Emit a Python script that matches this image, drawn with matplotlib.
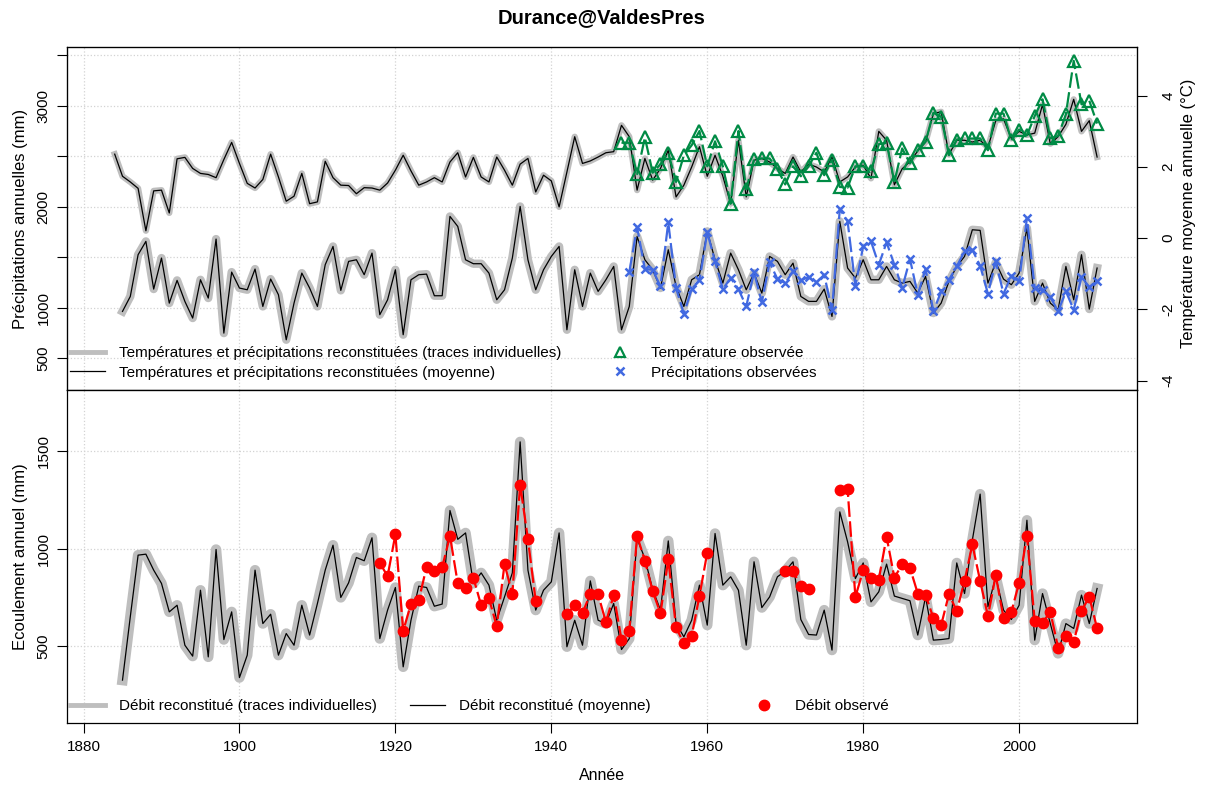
import numpy as np
import matplotlib
matplotlib.use("Agg")
import matplotlib.pyplot as plt
from matplotlib.lines import Line2D
from matplotlib.legend import Legend

plt.rcParams['font.family'] = ['Liberation Sans', 'DejaVu Sans']

# reconstructed series (mean of the members)
years_temp = np.arange(1884, 2011)
temp_mean = [2.36, 1.74, 1.58, 1.40, 0.21, 1.33, 1.35, 0.71, 2.23, 2.27,
             1.96, 1.82, 1.79, 1.70, 2.21, 2.69, 2.10, 1.54, 1.41, 1.65,
             2.36, 1.72, 1.04, 1.18, 1.82, 0.97, 1.02, 2.16, 1.70, 1.49,
             1.48, 1.25, 1.42, 1.41, 1.35, 1.55, 1.91, 2.33, 1.89, 1.49,
             1.58, 1.70, 1.58, 2.14, 2.40, 1.72, 2.27, 1.72, 1.58, 2.28,
             1.91, 1.49, 2.08, 2.24, 1.30, 1.77, 1.61, 0.88, 1.86, 2.85,
             2.10, 2.17, 2.28, 2.40, 2.43, 3.17, 2.85, 1.35, 2.24, 1.63,
             1.96, 2.47, 1.16, 1.49, 2.00, 2.57, 1.74, 2.33, 1.74, 0.97,
             2.75, 1.16, 2.19, 2.24, 2.14, 1.96, 1.82, 2.28, 1.86, 2.08,
             2.00, 1.86, 2.28, 1.58, 1.72, 2.00, 2.05, 1.68, 3.00, 2.75,
             1.50, 1.95, 2.15, 2.45, 2.70, 3.50, 3.55, 2.35, 2.75, 2.75,
             2.70, 2.75, 2.55, 3.30, 3.35, 2.80, 3.00, 2.90, 2.95, 3.75,
             2.65, 2.85, 3.20, 3.90, 3.00, 3.30, 2.28]

years = np.arange(1885, 2011)
precip_mean = [964, 1112, 1525, 1657, 1185, 1492, 1046, 1271, 1063, 898,
               1277, 1096, 1680, 749, 1353, 1195, 1178, 1383, 1013, 1284,
               1129, 683, 1046, 1343, 1195, 1013, 1426, 1607, 1172, 1459,
               1475, 1327, 1541, 931, 1079, 1376, 733, 1277, 1327, 1333,
               1119, 1119, 1904, 1805, 1475, 1436, 1436, 1343, 1079, 1178,
               1492, 2003, 1475, 1178, 1376, 1508, 1607, 782, 1376, 1013,
               1343, 1162, 1277, 1409, 782, 1013, 1706, 1475, 1376, 1195,
               1574, 1211, 1013, 1277, 1327, 1756, 1475, 1244, 1541, 1376,
               1178, 1343, 1145, 1508, 1459, 1327, 1442, 1112, 1063, 1063,
               1185, 914, 1855, 1393, 1294, 1475, 1277, 1277, 1409, 1277,
               1244, 1261, 1145, 1310, 947, 1046, 1261, 1409, 1508, 1772,
               1766, 1244, 1449, 1284, 1228, 1343, 1789, 1063, 1244, 1046,
               980, 1409, 1079, 1525, 987, 1393]

flow_mean = [325, 650, 966, 971, 889, 821, 675, 709, 504, 448,
             786, 444, 995, 533, 675, 338, 453, 889, 615, 663,
             453, 564, 504, 709, 556, 718, 889, 1017, 749, 824,
             954, 937, 1055, 538, 684, 800, 393, 632, 807, 800,
             704, 715, 1195, 1047, 1080, 821, 875, 812, 632, 752,
             875, 1547, 889, 684, 786, 829, 1080, 496, 632, 504,
             834, 632, 615, 718, 482, 538, 1051, 949, 790, 684,
             1039, 615, 547, 632, 812, 607, 1077, 812, 855, 786,
             504, 932, 697, 752, 855, 884, 932, 636, 559, 556,
             684, 479, 1188, 1034, 846, 926, 726, 778, 920, 756,
             744, 732, 556, 752, 530, 533, 538, 926, 769, 1043,
             1279, 701, 855, 684, 636, 709, 1145, 530, 769, 615,
             462, 615, 590, 761, 615, 795]

# observations
years_temp_obs = np.arange(1949, 2011)
temp_obs = [2.68, 2.68, 1.80, 2.83, 1.84, 2.08, 2.40, 1.58, 2.33, 2.61,
            3.01, 2.02, 2.72, 2.02, 0.97, 3.01, 1.37, 2.22, 2.24, 2.24,
            1.94, 1.51, 2.02, 1.74, 2.02, 2.40, 1.77, 2.21, 1.44, 1.42,
            2.02, 2.02, 1.89, 2.64, 2.68, 1.58, 2.52, 2.10, 2.47, 2.71,
            3.52, 3.41, 2.33, 2.77, 2.80, 2.80, 2.80, 2.47, 3.50, 3.50,
            2.75, 3.05, 2.89, 3.43, 3.90, 2.80, 2.87, 3.48, 4.98, 3.76,
            3.86, 3.22]

years_precip_obs = np.arange(1950, 2011)
precip_obs = [1353, 1799, 1383, 1376, 1211, 1845, 1195, 941, 1185, 1271,
              1746, 1459, 1185, 1294, 1185, 1013, 1350, 1053, 1449, 1284,
              1244, 1360, 1271, 1304, 1251, 1327, 974, 1977, 1855, 1218,
              1607, 1657, 1426, 1647, 1426, 1195, 1482, 1129, 1383, 964,
              1162, 1277, 1409, 1558, 1574, 1416, 1139, 1459, 1139, 1317,
              1261, 1888, 1195, 1172, 1106, 964, 1162, 980, 1304, 1205,
              1261]

nan = np.nan
years_flow_obs = np.arange(1918, 2011)
flow_obs = [926, 858, 1072, 578, 715, 735, 906, 884, 903, 1065,
            821, 798, 850, 709, 744, 602, 920, 766, 1328, 1048,
            730, nan, nan, nan, 663, 709, 670, 766, 766, 621,
            761, 533, 578, 1065, 937, 781, 667, 944, 595, 513,
            552, 757, 979, nan, nan, nan, nan, nan, nan, nan,
            nan, nan, 884, 884, 809, 791, nan, nan, nan, 1299,
            1304, 752, 889, 850, 841, 1060, 851, 918, 901, 769,
            761, 644, 607, 766, 679, 834, 1021, 834, 653, 863,
            644, 675, 824, 1065, 629, 619, 675, 492, 552, 521,
            680, 752, 590]

GRAY = '#bebebe'
GREEN = '#008b45'
BLUE = '#4169e1'
FS = 11
FS_LAB = 12

fig = plt.figure(figsize=(12.09, 7.9), dpi=100)
W, H = 1209.0, 790.0
ax1 = fig.add_axes([67.3 / W, 1 - 390 / H, 1069.4 / W, 342.7 / H])
ax2 = fig.add_axes([67.3 / W, 1 - 723 / H, 1069.4 / W, 333 / H])
ax1t = ax1.twinx()

obs_style = dict(lw=1.6, ls=(0, (7, 2)))

# top panel: precipitation (left axis) and temperature (right axis)
ax1.plot(years, precip_mean, color=GRAY, lw=6)
ax1.plot(years, precip_mean, color='black', lw=0.9)
ax1.plot(years_precip_obs, precip_obs, color=BLUE, marker='x', ms=6,
         mew=1.8, **obs_style)
ax1t.plot(years_temp, temp_mean, color=GRAY, lw=4.5)
ax1t.plot(years_temp, temp_mean, color='black', lw=0.9)
ax1t.plot(years_temp_obs, temp_obs, color=GREEN, marker='^', ms=8,
          mfc='none', mew=1.6, **obs_style)

# bottom panel: flow
ax2.plot(years, flow_mean, color=GRAY, lw=7.5)
ax2.plot(years, flow_mean, color='black', lw=0.9)
ax2.plot(years_flow_obs, flow_obs, color='red', marker='o', ms=7.5,
         **obs_style)

xlim = (1877.92, 2015.08)
for ax in (ax1, ax2):
    ax.set_xlim(xlim)
    ax.set_xticks(range(1880, 2001, 20))
    ax.grid(True, ls=':', color='#d3d3d3', lw=0.9)
    for sp in ax.spines.values():
        sp.set_linewidth(0.9)
    ax.tick_params(direction='out', length=7, width=0.8, labelsize=FS)

ax1.set_ylim(186, 3578)
ax1.set_yticks(range(500, 3501, 500))
ax1.set_yticklabels(['500', '1000', '', '2000', '', '3000', ''])
ax1.tick_params(axis='x', length=0, labelbottom=False)
ax1.tick_params(axis='y', pad=5)

ax1t.set_ylim(-4.26, 5.36)
ax1t.set_yticks([-4, -2, 0, 2, 4])
ax1t.set_yticklabels(['-4', '-2', '0', '2', '4'])
ax1t.tick_params(direction='out', length=7, width=0.8, labelsize=FS, pad=11)

ax2.set_ylim(105, 1813)
ax2.set_yticks([500, 1000, 1500])
ax2.set_yticklabels(['500', '1000', '1500'])
ax2.tick_params(axis='x', pad=5)
ax2.tick_params(axis='y', pad=5)

for ax in (ax1, ax1t, ax2):
    for lab in ax.get_yticklabels():
        lab.set_rotation(90)
        lab.set_va('center')

# axis titles
fig.text(21 / W, 1 - 218.7 / H, 'Précipitations annuelles (mm)', rotation=90,
         ha='center', va='center', fontsize=FS_LAB)
fig.text(1189 / W, 1 - 213 / H, 'Température moyenne annuelle (°C)',
         rotation=90, ha='center', va='center', fontsize=FS_LAB)
fig.text(21 / W, 1 - 556.5 / H, 'Ecoulement annuel (mm)', rotation=90,
         ha='center', va='center', fontsize=FS_LAB)
fig.text(602 / W, 1 - 775 / H, 'Année', ha='center', va='center',
         fontsize=11.5)
fig.text(602 / W, 1 - 18 / H, 'Durance@ValdesPres', ha='center', va='center',
         fontsize=14.5, fontweight='bold')

# legends (no frame, several per panel)
h_gray = Line2D([], [], color=GRAY, lw=3.5)
h_black = Line2D([], [], color='black', lw=0.9)
h_tri = Line2D([], [], ls='none', marker='^', ms=7, mfc='none', mec=GREEN,
               mew=1.6)
h_x = Line2D([], [], ls='none', marker='x', ms=6, color=BLUE, mew=1.8)
h_red = Line2D([], [], ls='none', marker='o', ms=7.5, color='red')

leg_kw = dict(frameon=False, borderpad=0, borderaxespad=0, handlelength=2.3,
              handletextpad=0.9, labelspacing=0.36, fontsize=FS,
              loc='upper left')


def add_legend(ax, handles, labels, x, y):
    leg = Legend(ax, handles, labels, bbox_to_anchor=(x, y),
                 bbox_transform=ax.transAxes, **leg_kw)
    ax.add_artist(leg)


add_legend(ax1t, [h_gray, h_black],
           ['Températures et précipitations reconstituées (traces individuelles)',
            'Températures et précipitations reconstituées (moyenne)'],
           0.0025, 0.128)
add_legend(ax1t, [h_tri, h_x],
           ['Température observée', 'Précipitations observées'], 0.5, 0.128)
add_legend(ax2, [h_gray], ['Débit reconstitué (traces individuelles)'],
           0.0025, 0.072)
add_legend(ax2, [h_black], ['Débit reconstitué (moyenne)'], 0.3205, 0.072)
add_legend(ax2, [h_red], ['Débit observé'], 0.6346, 0.072)

fig.savefig('out.png', dpi=100)
